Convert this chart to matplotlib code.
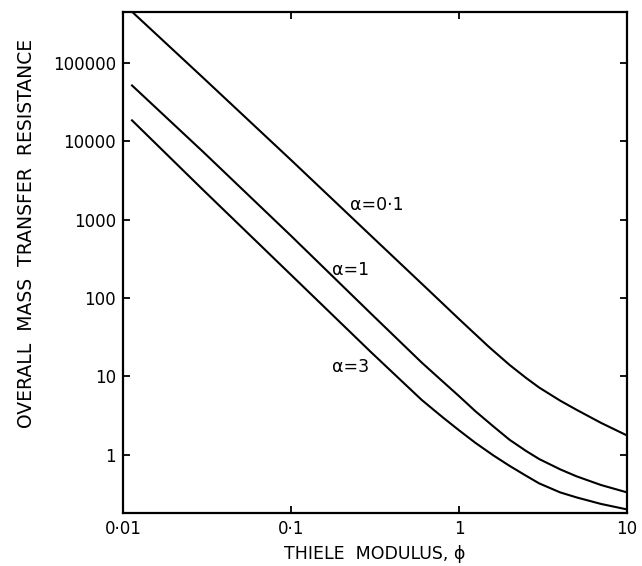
import matplotlib
matplotlib.use('Agg')
import matplotlib.pyplot as plt

# values (log-log)
phi_01 = [0.01, 0.03, 0.1, 0.3, 0.67, 1.0, 1.5, 2.0, 2.5, 3.0, 4.0, 5.0, 7.0, 10.0]
res_01 = [5.8e5, 65000, 5800, 622, 122, 54, 24, 14.0, 9.6, 7.2, 4.9, 3.75, 2.55, 1.76]

phi_1 = [0.0112, 0.03, 0.1, 0.3, 0.6, 0.8, 1.0, 1.25, 1.6, 2.0, 2.5, 3.0, 4.0, 5.0, 7.0, 10.0]
res_1 = [53000, 7360, 624, 63, 15, 8.6, 5.6, 3.6, 2.3, 1.55, 1.12, 0.88, 0.65, 0.53, 0.41, 0.33]

phi_3 = [0.0112, 0.03, 0.1, 0.3, 0.6, 0.8, 1.0, 1.25, 1.6, 2.0, 2.5, 3.0, 4.0, 5.0, 7.0, 10.0]
res_3 = [19000, 2400, 198, 20.3, 5.0, 3.0, 2.05, 1.42, 0.98, 0.72, 0.54, 0.43, 0.33, 0.285, 0.235, 0.20]

labels = ['\u03b1=0\u00b71', '\u03b1=1', '\u03b1=3']
label_pos = [(0.224, 1550), (0.175, 229), (0.175, 13.3)]

x_ticks = [0.01, 0.1, 1, 10]
x_ticklabels = ['0\u00b701', '0\u00b71', '1', '10']
y_ticks = [1, 10, 100, 1000, 10000, 100000]
y_ticklabels = ['1', '10', '100', '1000', '10000', '100000']


def main():
    plt.rcParams['font.family'] = ['DejaVu Sans']
    fig = plt.figure(figsize=(6.42, 5.66), dpi=100)
    ax = fig.add_axes([123 / 642, 53 / 566, 504 / 642, 501 / 566])

    for x, y in [(phi_01, res_01), (phi_1, res_1), (phi_3, res_3)]:
        ax.plot(x, y, color='black', lw=1.5, solid_capstyle='butt')

    ax.set_xscale('log')
    ax.set_yscale('log')
    ax.set_xlim(0.01, 10)
    ax.set_ylim(0.18, 4.5e5)

    ax.set_xticks(x_ticks)
    ax.set_xticklabels(x_ticklabels)
    ax.set_yticks(y_ticks)
    ax.set_yticklabels(y_ticklabels)
    ax.minorticks_off()
    ax.tick_params(which='major', direction='in', length=5, width=1.3,
                   top=True, right=True, labelsize=12, pad=5, colors='black')

    for sp in ax.spines.values():
        sp.set_linewidth(1.6)

    for txt, (x, y) in zip(labels, label_pos):
        ax.text(x, y, txt, fontsize=12.5, ha='left', va='center')

    ax.set_xlabel('THIELE  MODULUS, \u03d5', fontsize=12.5, labelpad=5)
    fig.text(27 / 642, 1 - 233 / 566, 'OVERALL  MASS  TRANSFER  RESISTANCE',
             rotation=90, fontsize=13.5, ha='center', va='center')

    fig.savefig('out.png', dpi=100)


if __name__ == '__main__':
    main()
